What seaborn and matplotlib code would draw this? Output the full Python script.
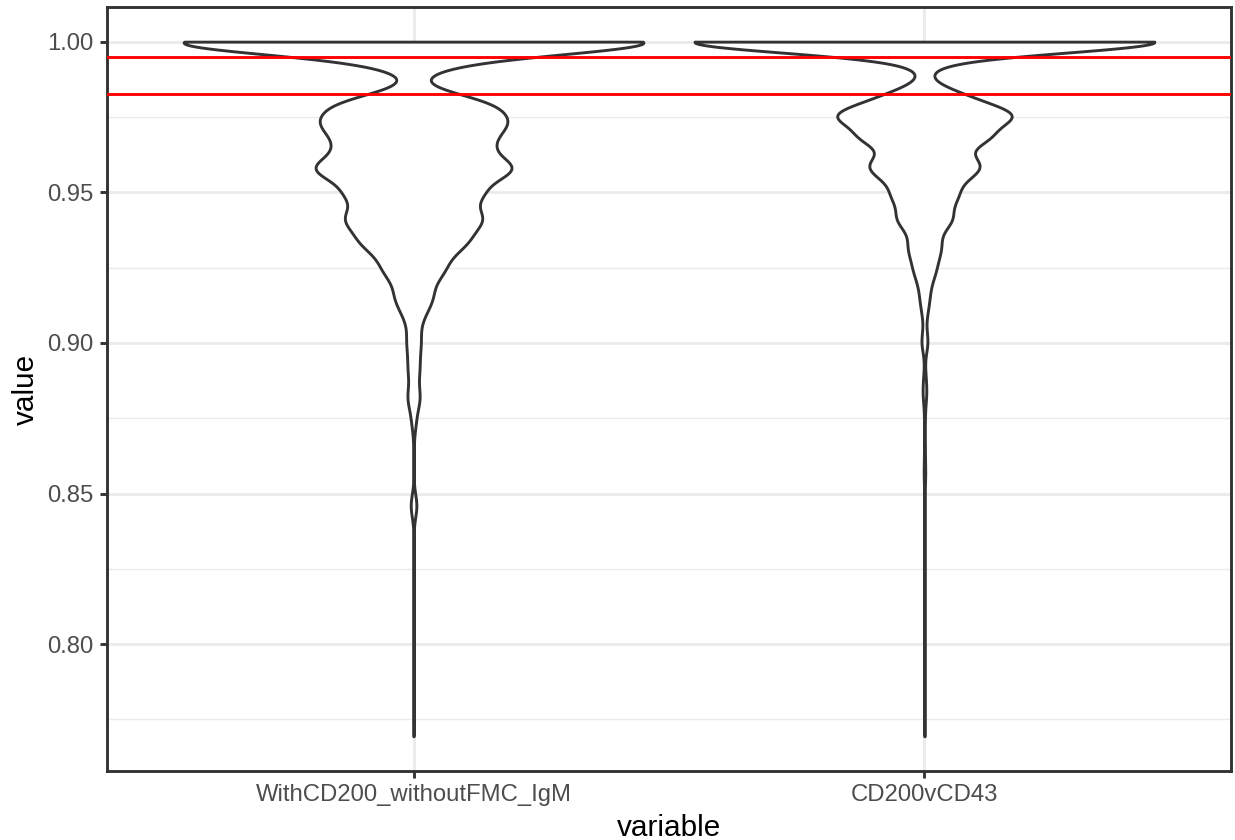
import numpy as np
import pandas as pd
import matplotlib
matplotlib.use("Agg")
import matplotlib.pyplot as plt
import seaborn as sns

# categories on the x axis
categories = ["WithCD200_withoutFMC_IgM", "CD200vCD43"]

# values (value, how many times it occurs)
left_values = [0.7694, 0.7750, 0.7850, 0.7950, 0.8050, 0.8150, 0.8250, 0.8350, 0.8460,
               0.8600, 0.8625, 0.8725, 0.8750, 0.8800, 0.8825, 0.8875, 0.8900, 0.8925,
               0.8950, 0.8975, 0.9000, 0.9025, 0.9050, 0.9075, 0.9100, 0.9125, 0.9150,
               0.9175, 0.9200, 0.9225, 0.9250, 0.9275, 0.9300, 0.9325, 0.9350, 0.9375,
               0.9400, 0.9425, 0.9450, 0.9475, 0.9500, 0.9525, 0.9550, 0.9575, 0.9600,
               0.9625, 0.9650, 0.9675, 0.9700, 0.9725, 0.9750, 0.9775, 0.9800, 0.9925,
               0.9950, 1.0000]
left_counts = [1, 1, 1, 1, 1, 1, 1, 1, 28,
               1, 2, 7, 12, 15, 41, 2, 33, 6,
               24, 5, 32, 24, 1, 25, 47, 16, 98,
               37, 26, 102, 105, 73, 79, 191, 174, 82,
               236, 271, 59, 130, 352, 67, 136, 546, 145,
               181, 255, 176, 226, 265, 353, 33, 488, 145,
               213, 2180]

right_values = [0.7694, 0.7800, 0.7900, 0.8000, 0.8100, 0.8200, 0.8300, 0.8400, 0.8500,
                0.8525, 0.8550, 0.8575, 0.8650, 0.8725, 0.8750, 0.8825, 0.8850, 0.8875,
                0.8900, 0.8975, 0.9000, 0.9025, 0.9050, 0.9100, 0.9125, 0.9150, 0.9175,
                0.9200, 0.9225, 0.9250, 0.9275, 0.9300, 0.9325, 0.9350, 0.9375, 0.9400,
                0.9425, 0.9450, 0.9475, 0.9500, 0.9525, 0.9550, 0.9575, 0.9600, 0.9625,
                0.9650, 0.9675, 0.9700, 0.9750, 0.9775, 0.9800, 0.9825, 0.9925, 0.9950,
                1.0000]
right_counts = [1, 1, 1, 1, 1, 1, 1, 1, 1,
                1, 1, 6, 4, 1, 3, 13, 1, 8,
                2, 1, 23, 5, 3, 14, 10, 16, 21,
                7, 43, 37, 30, 50, 68, 34, 20, 127,
                102, 20, 125, 132, 39, 152, 176, 225, 101,
                3, 353, 208, 559, 181, 111, 206, 36, 90,
                2260]

# kernel bandwidth of each violin
bandwidths = [0.0038, 0.0035]
# red reference lines
cutoffs = [0.995, 0.9827]

major_y = [0.80, 0.85, 0.90, 0.95, 1.00]
minor_y = [0.775, 0.825, 0.875, 0.925, 0.975]

df = pd.concat([
    pd.DataFrame({"variable": categories[0], "value": np.repeat(left_values, left_counts)}),
    pd.DataFrame({"variable": categories[1], "value": np.repeat(right_values, right_counts)}),
], ignore_index=True)

plt.rcParams["font.family"] = ["Liberation Sans", "DejaVu Sans"]

fig = plt.figure(figsize=(1235 / 195, 840 / 195), dpi=195)
ax = fig.add_axes([107 / 1235, 1 - 771 / 840, 1124 / 1235, 764 / 840])

for cat, bw in zip(categories, bandwidths):
    sns.violinplot(data=df[df["variable"] == cat], x="variable", y="value", order=categories,
                   bw_method=lambda k, bw=bw: bw / k.dataset.std(ddof=1),
                   cut=0, density_norm="width", inner=None, width=0.9, gridsize=1500,
                   color="white", saturation=1, linecolor="#333333", linewidth=1.07, ax=ax)

for c in cutoffs:
    ax.axhline(c, color="#FF0000", lw=1.07, zorder=5)

ax.set_xlim(-0.6, 1.6)
ax.set_ylim(0.7579, 1.0115)
ax.set_yticks(major_y)
ax.set_yticklabels([f"{v:.2f}" for v in major_y])
ax.set_yticks(minor_y, minor=True)
ax.set_axisbelow(True)
ax.grid(True, which="major", color="#EBEBEB", lw=1.07)
ax.grid(True, which="minor", axis="y", color="#EBEBEB", lw=0.53)
ax.xaxis.grid(True, which="major", color="#EBEBEB", lw=1.07)
ax.tick_params(which="major", length=2.75, width=1.07, color="#333333",
               labelcolor="#4D4D4D", labelsize=8.8, pad=2.2)
ax.tick_params(which="minor", length=0)
for s in ax.spines.values():
    s.set_color("#333333")
    s.set_linewidth(1.07)
ax.set_xlabel("variable", fontsize=11, color="black", labelpad=2.75)
ax.set_ylabel("value", fontsize=11, color="black", labelpad=2.75)

fig.savefig("out.png", dpi=195)
